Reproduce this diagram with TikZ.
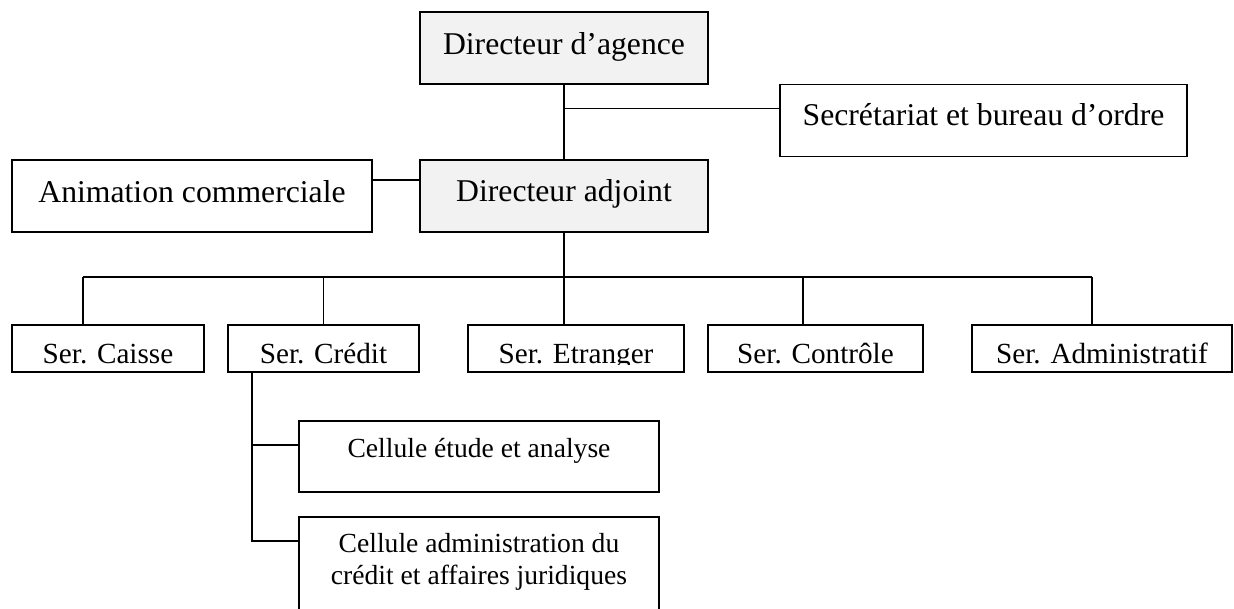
\documentclass[tikz,border=0pt]{standalone}
\usepackage{fontspec}
\setmainfont{Liberation Serif}
\definecolor{boxgray}{RGB}{242,242,242}
\tikzset{
  box/.style={draw=black, line width=1.9pt, inner sep=0pt, fill=white},
  graybox/.style={box, fill=boxgray},
  link/.style={draw=black, line width=1.9pt},
  bigtxt/.style={anchor=base, inner sep=0pt, font=\fontsize{31.7}{38}\selectfont},
  sertxt/.style={anchor=base, inner sep=0pt, font=\fontsize{29.2}{35}\selectfont},
  celtxt/.style={anchor=base, inner sep=0pt, align=center, font=\fontsize{27.6}{32}\selectfont},
}
\begin{document}
\begin{tikzpicture}[x=1pt, y=-1pt]
\useasboundingbox (0,0) rectangle (1234,608);
\clip (0,0) rectangle (1234,608);

% top level boxes
\node[graybox, minimum width=288pt, minimum height=72pt] (agence) at (564,48) {};
\node[bigtxt] (tagence) at (564,54) {Directeur d’agence};

\node[graybox, minimum width=288pt, minimum height=72pt] (adjoint) at (564,196) {};
\node[bigtxt] (tadjoint) at (564,201) {Directeur adjoint};

\node[box, minimum width=407pt, minimum height=72pt] (secr) at (983.5,120.5) {};
\node[bigtxt] (tsecr) at (983.5,125.5) {Secrétariat et bureau d’ordre};

\node[box, minimum width=360pt, minimum height=72pt] (anim) at (192,196) {};
\node[bigtxt] (tanim) at (192,202) {Animation commerciale};

% services
\node[box, minimum width=192pt, minimum height=47pt] (caisse) at (108,348.5) {};
\node[sertxt] (tcaisse) at (108,363) {Ser. Caisse};

\node[box, minimum width=191pt, minimum height=47pt] (credit) at (323.5,348.5) {};
\node[sertxt] (tcredit) at (323.5,363) {Ser. Crédit};

\node[box, minimum width=216pt, minimum height=47pt] (etranger) at (576,348.5) {};
\begin{scope}
  \clip (468,326) rectangle (684,364);
  \node[sertxt] (tetranger) at (576,363) {Ser. Etranger};
\end{scope}

\node[box, minimum width=215pt, minimum height=47pt] (controle) at (815.5,348.5) {};
\node[sertxt] (tcontrole) at (815.5,363) {Ser. Contrôle};

\node[box, minimum width=260pt, minimum height=47pt] (admin) at (1102,348.5) {};
\node[sertxt] (tadmin) at (1102,363) {Ser. Administratif};

% cellules
\node[box, minimum width=360pt, minimum height=71pt] (etude) at (479,456.5) {};
\node[celtxt] (tetude) at (479,457) {Cellule étude et analyse};

\node[box, minimum width=360pt, minimum height=123pt] (juri) at (479,578.5) {};
\node[celtxt] (tjuri1) at (479,552.5) {Cellule administration du};
\node[celtxt] (tjuri2) at (479,584.5) {crédit et affaires juridiques};

% connectors
\coordinate (j1) at (564,108.5);
\draw[link] (agence.south) -- (adjoint.north);
\draw[link] (j1) -- (j1 -| secr.west);
\draw[link] ([yshift=16pt]anim.east) -- ([yshift=16pt]adjoint.west);

\coordinate (bus) at (564,277);
\coordinate (c1) at ([xshift=-25pt]caisse.north);
\coordinate (c2) at (credit.north);
\coordinate (c3) at ([xshift=-12pt]etranger.north);
\coordinate (c4) at ([xshift=-12.5pt]controle.north);
\coordinate (c5) at ([xshift=-10pt]admin.north);
\draw[link] (adjoint.south) -- (bus);
\draw[link] (c1 |- bus) -- (c5 |- bus);
\draw[link] (c1) -- (c1 |- bus);
\draw[link] (c2) -- (c2 |- bus);
\draw[link] (c3) -- (c3 |- bus);
\draw[link] (c4) -- (c4 |- bus);
\draw[link] (c5) -- (c5 |- bus);

\coordinate (k) at ([xshift=-71.5pt]credit.south);
\coordinate (e1) at ([yshift=11.5pt]etude.west);
\coordinate (e2) at ([yshift=37.5pt]juri.west);
\draw[link] (k) |- (e2);
\draw[link] (k |- e1) -- (e1);
\end{tikzpicture}
\end{document}
